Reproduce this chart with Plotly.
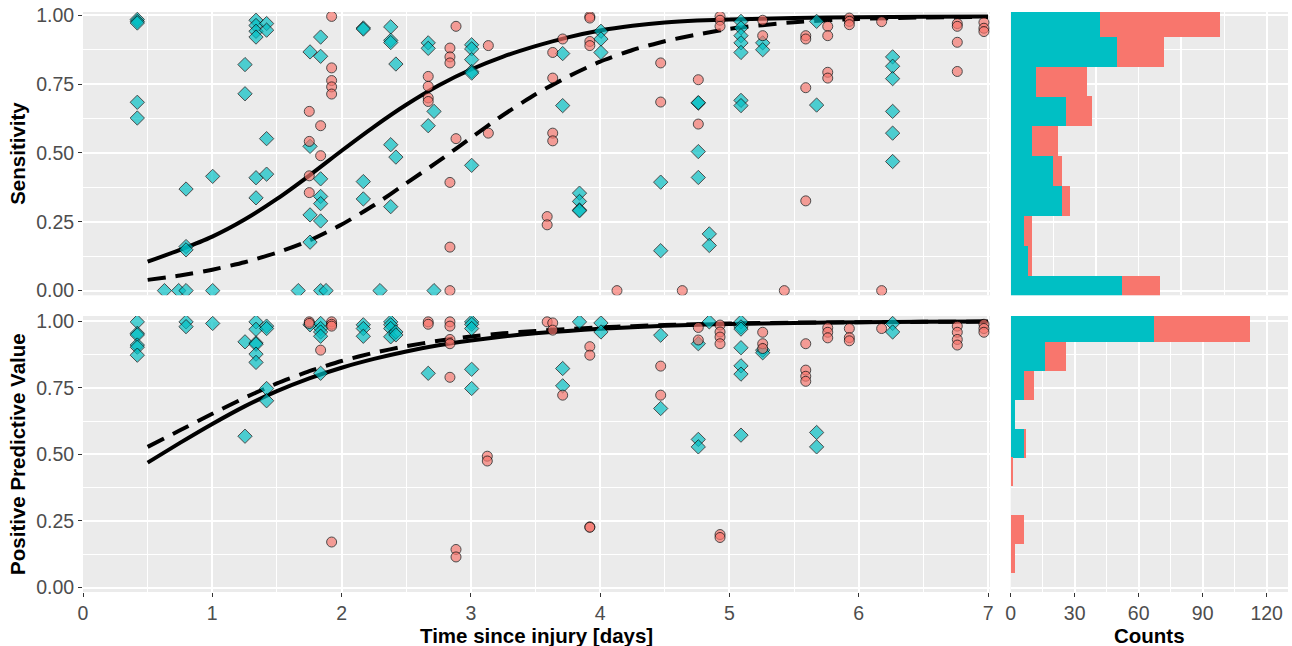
import plotly.graph_objects as go

# ---------------- data ----------------
# Sensitivity panel, cyan diamonds
sens_cyan_day = [0.42, 0.42, 0.42, 0.42, 0.42, 0.63, 0.74, 0.797, 0.797, 0.797, 0.797,
                 1.003, 1.003, 1.253, 1.253, 1.338, 1.338, 1.338, 1.338, 1.338, 1.338,
                 1.42, 1.42, 1.42, 1.42, 1.665, 1.756, 1.756, 1.756, 1.756,
                 1.838, 1.838, 1.838, 1.838, 1.838, 1.838, 1.838, 1.88,
                 2.168, 2.168, 2.168, 2.168, 2.297, 2.38, 2.38, 2.38, 2.38, 2.38,
                 2.42, 2.42, 2.67, 2.67, 2.67, 2.715, 2.715,
                 3.006, 3.006, 3.006, 3.006, 3.006, 3.006, 3.71, 3.71,
                 3.84, 3.84, 3.84, 3.84, 4.006, 4.006, 4.006, 4.468, 4.468,
                 4.759, 4.759, 4.759, 4.759, 4.844, 4.844,
                 5.089, 5.089, 5.089, 5.089, 5.089, 5.089, 5.089, 5.257, 5.257,
                 5.674, 5.674, 6.262, 6.262, 6.262, 6.262, 6.262, 6.262]
sens_cyan_val = [0.985, 0.978, 0.972, 0.684, 0.627, 0.0, 0.0, 0.369, 0.16, 0.148, 0.0,
                 0.415, 0.0, 0.821, 0.715, 0.982, 0.963, 0.942, 0.921, 0.41, 0.337,
                 0.97, 0.946, 0.552, 0.423, 0.0, 0.867, 0.524, 0.275, 0.176,
                 0.921, 0.851, 0.406, 0.342, 0.316, 0.253, 0.0, 0.0,
                 0.954, 0.950, 0.396, 0.333, 0.0, 0.958, 0.909, 0.901, 0.53, 0.305,
                 0.823, 0.485, 0.9, 0.88, 0.599, 0.651, 0.0,
                 0.893, 0.878, 0.839, 0.796, 0.79, 0.455, 0.861, 0.672,
                 0.354, 0.324, 0.293, 0.29, 0.942, 0.914, 0.865, 0.394, 0.145,
                 0.681, 0.683, 0.505, 0.411, 0.206, 0.164,
                 0.978, 0.954, 0.926, 0.9, 0.865, 0.691, 0.672, 0.9, 0.875,
                 0.978, 0.674, 0.849, 0.815, 0.77, 0.651, 0.572, 0.469]

# Sensitivity panel, red circles
sens_red_day = [1.75, 1.75, 1.75, 1.75, 1.838, 1.838, 1.923, 1.923, 1.923, 1.923, 1.923,
                2.67, 2.67, 2.67, 2.67, 2.838, 2.838, 2.838, 2.838, 2.838, 2.838,
                2.885, 2.885, 3.135, 3.135, 3.59, 3.59, 3.633, 3.633, 3.633, 3.633, 3.71,
                3.92, 3.92, 3.92, 3.92, 4.13, 4.468, 4.468, 4.635, 4.759, 4.759,
                4.927, 4.927, 4.927, 5.257, 5.257, 5.424, 5.59, 5.59, 5.59, 5.59,
                5.76, 5.76, 5.76, 5.76, 5.927, 5.927, 5.927, 6.177, 6.177,
                6.762, 6.762, 6.762, 6.762, 6.968, 6.968, 6.968]
sens_red_val = [0.651, 0.542, 0.417, 0.356, 0.599, 0.49, 0.996, 0.809, 0.763, 0.74, 0.714,
                0.778, 0.742, 0.70, 0.687, 0.881, 0.849, 0.827, 0.393, 0.158, 0.0,
                0.96, 0.552, 0.89, 0.572, 0.269, 0.239, 0.865, 0.772, 0.572, 0.544, 0.914,
                0.996, 0.99, 0.905, 0.89, 0.0, 0.827, 0.685, 0.0, 0.766, 0.605,
                0.996, 0.982, 0.96, 0.982, 0.926, 0.0, 0.926, 0.914, 0.737, 0.326,
                0.96, 0.926, 0.793, 0.772, 0.99, 0.978, 0.966, 0.977, 0.0,
                0.97, 0.96, 0.902, 0.796, 0.974, 0.953, 0.941]

# PPV panel, cyan diamonds
ppv_cyan_day = [0.42, 0.42, 0.42, 0.42, 0.42, 0.42, 0.797, 0.797, 1.003, 1.253, 1.253,
                1.338, 1.338, 1.338, 1.338, 1.338, 1.338, 1.42, 1.42, 1.42, 1.42,
                1.756, 1.838, 1.838, 1.838, 1.838, 1.838, 2.168, 2.168, 2.168,
                2.38, 2.38, 2.38, 2.38, 2.42, 2.42, 2.67,
                3.006, 3.006, 3.006, 3.006, 3.006, 3.71, 3.71, 3.84, 4.006, 4.006,
                4.468, 4.468, 4.759, 4.759, 4.759, 4.844,
                5.089, 5.089, 5.089, 5.089, 5.089, 5.089, 5.089, 5.257, 5.257,
                5.674, 5.674, 6.262, 6.262]
ppv_cyan_val = [0.997, 0.954, 0.948, 0.91, 0.902, 0.872, 0.997, 0.979, 0.991, 0.922, 0.568,
                0.997, 0.969, 0.918, 0.913, 0.876, 0.845, 0.981, 0.972, 0.747, 0.701,
                0.986, 0.991, 0.972, 0.959, 0.943, 0.804, 0.986, 0.972, 0.943,
                0.997, 0.986, 0.972, 0.941, 0.959, 0.948, 0.804,
                0.997, 0.988, 0.972, 0.819, 0.747, 0.822, 0.757, 0.997, 0.993, 0.959,
                0.947, 0.672, 0.915, 0.556, 0.528, 0.997,
                0.997, 0.978, 0.97, 0.9, 0.832, 0.801, 0.572, 0.891, 0.881,
                0.582, 0.528, 0.991, 0.959]

# PPV panel, red circles
ppv_red_day = [1.75, 1.75, 1.838, 1.923, 1.923, 1.923, 1.923, 2.67, 2.67,
               2.838, 2.838, 2.838, 2.838, 2.838, 2.885, 2.885, 3.127, 3.127,
               3.59, 3.633, 3.633, 3.71, 3.92, 3.92, 3.92, 3.92, 4.468, 4.468,
               4.759, 4.759, 4.927, 4.927, 4.927, 4.927, 4.927, 4.927,
               5.257, 5.257, 5.257, 5.59, 5.59, 5.59, 5.59, 5.76, 5.76, 5.76,
               5.927, 5.927, 5.927, 6.177, 6.762, 6.762, 6.762, 6.762,
               6.968, 6.968, 6.968]
ppv_red_val = [0.997, 0.991, 0.891, 0.997, 0.988, 0.981, 0.171, 0.997, 0.988,
               0.997, 0.981, 0.931, 0.915, 0.789, 0.143, 0.115, 0.493, 0.475,
               0.997, 0.993, 0.966, 0.722, 0.904, 0.872, 0.228, 0.226, 0.831, 0.722,
               0.976, 0.929, 0.985, 0.959, 0.94, 0.915, 0.199, 0.188,
               0.958, 0.915, 0.897, 0.915, 0.816, 0.793, 0.774, 0.975, 0.958, 0.937,
               0.972, 0.938, 0.926, 0.972, 0.981, 0.958, 0.931, 0.91,
               0.988, 0.972, 0.958]

# fitted curves
curve_day = [0.5, 0.75, 1.0, 1.25, 1.5, 1.75, 2.0, 2.25, 2.5, 2.75, 3.0, 3.25, 3.5,
             3.75, 4.0, 4.25, 4.5, 4.75, 5.0, 5.5, 6.0, 6.5, 7.0]
sens_solid = [0.105, 0.148, 0.196, 0.258, 0.333, 0.418, 0.508, 0.595, 0.675, 0.745, 0.803,
              0.850, 0.888, 0.920, 0.945, 0.962, 0.974, 0.981, 0.985, 0.990, 0.993, 0.995, 0.996]
sens_dashed = [0.039, 0.055, 0.076, 0.103, 0.138, 0.182, 0.240, 0.310, 0.390, 0.470, 0.555,
               0.638, 0.713, 0.777, 0.832, 0.874, 0.906, 0.930, 0.951, 0.975, 0.987, 0.992, 0.994]
ppv_solid = [0.469, 0.543, 0.614, 0.680, 0.737, 0.785, 0.825, 0.858, 0.886, 0.909, 0.927,
             0.942, 0.954, 0.963, 0.971, 0.977, 0.982, 0.986, 0.989, 0.993, 0.996, 0.997, 0.998]
ppv_dashed = [0.528, 0.590, 0.652, 0.712, 0.766, 0.812, 0.850, 0.881, 0.906, 0.926, 0.942,
              0.954, 0.963, 0.970, 0.976, 0.981, 0.985, 0.988, 0.991, 0.994, 0.996, 0.997, 0.998]

# histograms (counts per bin)
bin_centers = [0.0, 0.108, 0.217, 0.325, 0.434, 0.542, 0.651, 0.759, 0.868, 0.976]
bin_width = 0.1085
sens_hist_cyan = [52, 8, 6, 24, 20, 10, 26, 12, 50, 42]
sens_hist_red = [18, 2, 4, 4, 4, 12, 12, 24, 22, 56]
ppv_hist_cyan = [0, 0, 0, 0, 0, 6, 2, 6, 16, 67]
ppv_hist_red = [0, 2, 6, 0, 1, 1, 0, 5, 10, 45]

x_ticks = [0, 1, 2, 3, 4, 5, 6, 7]
count_ticks = [0, 30, 60, 90, 120]

# ---------------- style ----------------
RED = "#F8766D"
CYAN = "#00BFC4"
PANEL = "#EBEBEB"
FONT = "Liberation Sans, Arial, sans-serif"
TICKCOL = "#4D4D4D"

fig = go.Figure()


def curves(xa, ya, solid, dashed):
    fig.add_trace(go.Scatter(x=curve_day, y=dashed, mode="lines", xaxis=xa, yaxis=ya,
                             line=dict(color="black", width=4, dash="18px,10px", shape="spline",
                                       smoothing=0.6),
                             showlegend=False, hoverinfo="skip"))
    fig.add_trace(go.Scatter(x=curve_day, y=solid, mode="lines", xaxis=xa, yaxis=ya,
                             line=dict(color="black", width=4, shape="spline", smoothing=0.6),
                             showlegend=False, hoverinfo="skip"))


def points(xa, ya, cd, cv, rd, rv):
    fig.add_trace(go.Scatter(x=cd, y=cv, mode="markers", xaxis=xa, yaxis=ya,
                             marker=dict(symbol="diamond", size=11, color=CYAN, opacity=0.68,
                                         line=dict(color="black", width=1)),
                             showlegend=False))
    fig.add_trace(go.Scatter(x=rd, y=rv, mode="markers", xaxis=xa, yaxis=ya,
                             marker=dict(symbol="circle", size=10, color=RED, opacity=0.68,
                                         line=dict(color="black", width=1)),
                             showlegend=False))


curves("x", "y", sens_solid, sens_dashed)
points("x", "y", sens_cyan_day, sens_cyan_val, sens_red_day, sens_red_val)
curves("x3", "y3", ppv_solid, ppv_dashed)
points("x3", "y3", ppv_cyan_day, ppv_cyan_val, ppv_red_day, ppv_red_val)

for xa, ya, cc, rc in [("x2", "y2", sens_hist_cyan, sens_hist_red),
                       ("x4", "y4", ppv_hist_cyan, ppv_hist_red)]:
    fig.add_trace(go.Bar(y=bin_centers, x=cc, orientation="h", width=bin_width,
                         marker=dict(color=CYAN, line=dict(width=0)),
                         xaxis=xa, yaxis=ya, showlegend=False))
    fig.add_trace(go.Bar(y=bin_centers, x=rc, orientation="h", width=bin_width,
                         marker=dict(color=RED, line=dict(width=0)),
                         xaxis=xa, yaxis=ya, showlegend=False))

L, R, T, B = 83, 4, 12, 54
W, H = 1292, 646
pw, ph = W - L - R, H - T - B
main_dom = [0, (990 - L) / pw]
hist_dom = [(1010.7 - L) / pw, 1]
top_dom = [(H - B - 295.3) / ph, 1]
bot_dom = [0, (H - B - 316) / ph]

common = dict(showgrid=True, gridcolor="white", gridwidth=2, zeroline=False,
              showline=False, tickfont=dict(family=FONT, size=19.5, color=TICKCOL),
              ticklen=4, tickcolor="#333333", tickwidth=1)

xmain = dict(common, range=[0, 7.015], tickvals=x_ticks,
             minor=dict(tickvals=[0.5, 1.5, 2.5, 3.5, 4.5, 5.5, 6.5], showgrid=True,
                        gridcolor="white", gridwidth=1))
ymain_ticks = dict(tickvals=[0, 0.25, 0.5, 0.75, 1.0],
                   ticktext=["0.00", "0.25", "0.50", "0.75", "1.00"],
                   minor=dict(tickvals=[0.125, 0.375, 0.625, 0.875], showgrid=True,
                              gridcolor="white", gridwidth=1))

fig.update_layout(
    width=W, height=H,
    margin=dict(l=L, r=R, t=T, b=B, autoexpand=False),
    paper_bgcolor="white", plot_bgcolor=PANEL,
    barmode="stack", bargap=0,
    font=dict(family=FONT),
    xaxis=dict(xmain, domain=main_dom, anchor="y", showticklabels=False, ticks=""),
    yaxis=dict(common, **ymain_ticks, domain=top_dom, anchor="x", range=[-0.017, 1.012],
               ticks="outside"),
    xaxis2=dict(common, domain=hist_dom, anchor="y2", range=[0, 130],
                tickvals=[0, 40, 80, 120], showticklabels=False, ticks="",
                minor=dict(tickvals=[20, 60, 100], showgrid=True, gridcolor="white", gridwidth=1)),
    yaxis2=dict(common, **ymain_ticks, domain=top_dom, anchor="x2", range=[-0.017, 1.012],
                showticklabels=False, ticks=""),
    xaxis3=dict(xmain, domain=main_dom, anchor="y3", ticks="outside"),
    yaxis3=dict(common, **ymain_ticks, domain=bot_dom, anchor="x3", range=[-0.0165, 1.019],
                ticks="outside"),
    xaxis4=dict(common, domain=hist_dom, anchor="y4", range=[0, 130],
                tickvals=count_ticks, ticks="outside",
                minor=dict(tickvals=[15, 45, 75, 105], showgrid=True, gridcolor="white", gridwidth=1)),
    yaxis4=dict(common, **ymain_ticks, domain=bot_dom, anchor="x4", range=[-0.0165, 1.019],
                showticklabels=False, ticks=""),
)

title_font = dict(family=FONT, size=20.5, color="black")


def px_x(px):
    return (px - L) / pw


def px_y(py):
    return (H - B - py) / ph


fig.add_annotation(text="<b>Sensitivity</b>", x=px_x(18), y=px_y(153.8), xref="paper", yref="paper",
                   textangle=-90, showarrow=False, font=title_font, xanchor="center", yanchor="middle")
fig.add_annotation(text="<b>Positive Predictive Value</b>", x=px_x(18), y=px_y(453.9), xref="paper",
                   yref="paper", textangle=-90, showarrow=False, font=title_font,
                   xanchor="center", yanchor="middle")
fig.add_annotation(text="<b>Time since injury [days]</b>", x=px_x(536), y=px_y(635), xref="paper",
                   yref="paper", showarrow=False, font=title_font, xanchor="center", yanchor="middle")
fig.add_annotation(text="<b>Counts</b>", x=px_x(1149), y=px_y(635), xref="paper", yref="paper",
                   showarrow=False, font=title_font, xanchor="center", yanchor="middle")

fig.write_html("out.html", config={"displayModeBar": False, "staticPlot": True})

# remove the browser's default body margin so the figure sits at the page origin
with open("out.html", "r", encoding="utf-8") as f:
    html = f.read()
html = html.replace("<head>", "<head><style>html,body{margin:0;padding:0;overflow:hidden;}</style>", 1)
with open("out.html", "w", encoding="utf-8") as f:
    f.write(html)
